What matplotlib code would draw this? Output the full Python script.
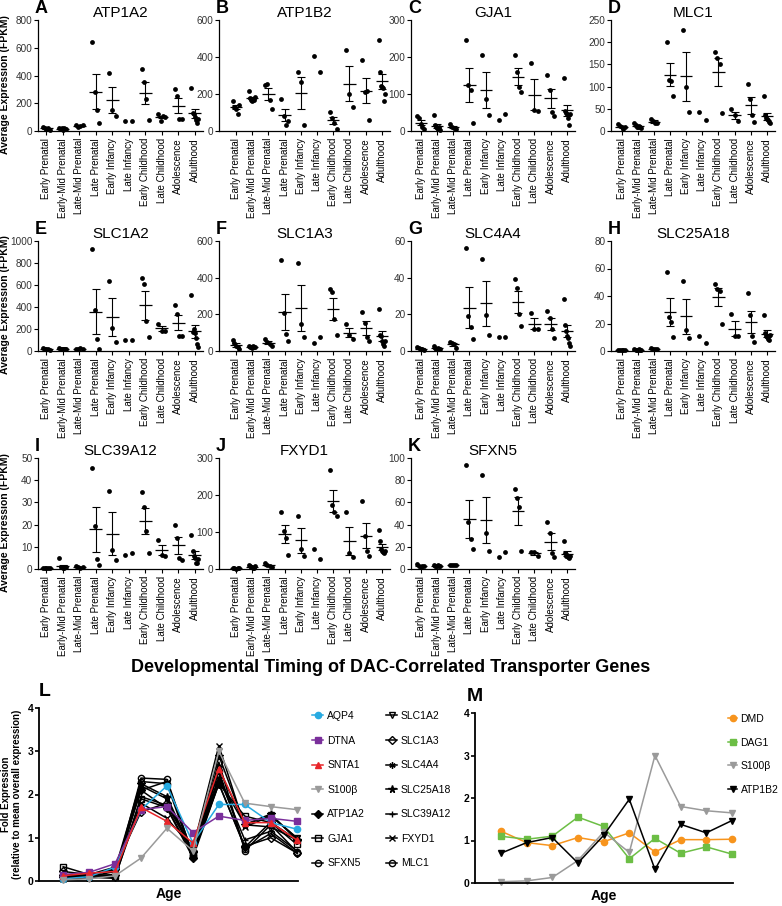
import numpy as np
import matplotlib
matplotlib.use("Agg")
import matplotlib.pyplot as plt

plt.rcParams['font.family'] = ['Liberation Sans', 'DejaVu Sans']

W, H = 782, 906

categories = ["Early Prenatal", "Early-Mid Prenatal", "Late-Mid Prenatal", "Late Prenatal",
              "Early Infancy", "Late Infancy", "Early Childhood", "Late Childhood",
              "Adolescence", "Adulthood"]

# individual samples (FPKM) per age group
atp1a2 = [[30, 20, 15, 25, 10], [20, 15, 25, 10, 20, 15, 18], [40, 30, 35, 45],
          [645, 280, 150, 60], [415, 150, 105], [70, 75], [445, 350, 230, 80],
          [120, 75, 110, 100], [300, 255, 90, 85], [310, 130, 120, 100, 80, 60, 90]]
atp1b2 = [[160, 130, 120, 90, 140], [215, 180, 170, 160, 175, 165, 185], [250, 255, 170, 120],
          [175, 80, 30, 55], [320, 265, 35], [405, 320], [105, 70, 45, 10],
          [440, 200, 130], [385, 210, 215, 60], [490, 320, 245, 240, 230, 160, 200]]
gja1 = [[40, 35, 20, 10, 5], [42, 15, 10, 8, 5, 12, 3], [20, 12, 8, 5],
        [245, 125, 110, 22], [205, 87, 42], [30, 45], [205, 160, 118, 105],
        [183, 57, 55], [152, 110, 52, 40], [143, 55, 50, 45, 35, 15, 45]]
mlc1 = [[15, 12, 8, 5, 10], [17, 13, 10, 8, 12, 9, 7], [28, 22, 18, 17],
        [200, 115, 113, 78], [228, 98, 43], [42, 25], [178, 165, 150, 40],
        [49, 35, 22], [106, 72, 35, 20], [78, 35, 30, 28, 25, 20, 18]]
slc1a2 = [[25, 20, 15, 20, 10], [25, 20, 15, 20, 18, 22, 15], [20, 15, 25, 18],
          [925, 370, 110, 20], [640, 205, 80], [100, 100], [660, 610, 270, 125],
          [250, 180, 185], [420, 340, 140, 135], [505, 175, 200, 160, 120, 65, 40]]
slc1a3 = [[60, 45, 30, 20, 10], [25, 20, 22, 18, 25, 20, 23], [65, 50, 40, 25],
          [495, 210, 95, 55], [480, 145, 75], [45, 75], [340, 320, 175, 90],
          [145, 90, 65], [215, 155, 75, 55], [228, 90, 80, 55, 40, 25, 55]]
slc4a4 = [[2, 1.5, 1, 1, 0.8], [2.5, 1.5, 1, 1.2, 1.8, 1, 1.3], [5, 4.5, 4, 1.5],
          [56, 19, 13, 6.5], [50, 19.5, 8.5], [7.5, 7.8], [39.5, 34.5, 20, 13.5],
          [21, 12, 12], [22, 18, 12, 7], [28.5, 14, 11, 8, 7, 4.5, 2.5]]
slc25a18 = [[1, 0.8, 0.5, 0.7, 0.6], [1.2, 1, 0.8, 0.9, 1.1, 0.7, 0.6], [2, 1.5, 1.8, 1.2],
            [57.5, 25, 21, 10], [51, 15, 9.5], [11, 6], [49, 45, 44, 20],
            [27, 11, 11], [42, 26, 11, 6.5], [26, 13, 11, 10, 9, 8, 12]]
slc39a12 = [[0.5, 0.4, 0.3, 0.4, 0.5], [5, 1, 0.8, 0.6, 0.5, 0.7, 0.9], [1.2, 0.8, 0.6, 1.0],
            [45.5, 19.5, 4.5, 1.8], [35, 8.5, 4], [6.5, 7.2], [34.5, 28, 17, 7],
            [13, 6.5, 6], [19.7, 14, 5, 4], [15.3, 8, 6, 5, 2.5, 2.5, 4.5]]
fxyd1 = [[3, 2, 1, 2, 1.5], [12, 8, 6, 5, 4, 3, 7], [15, 10, 8, 6],
         [153, 103, 85, 39], [143, 55, 35], [55, 28], [268, 172, 153, 143],
         [153, 43, 32], [185, 88, 48, 36], [106, 75, 55, 50, 45, 42, 48]]
sfxn5 = [[4.5, 3, 2, 2.5, 3], [3.5, 3, 2.5, 2.8, 3.2, 2.7, 3], [4, 3.8, 3.5, 4],
         [94, 42, 27, 18], [85, 32, 16], [11, 15], [72, 64, 56, 16],
         [15, 15, 12], [42.5, 32, 14, 10.5], [25.5, 14, 12, 13, 11, 10, 12]]

panel_letters = ["A", "B", "C", "D", "E", "F", "G", "H", "I", "J", "K"]
panel_genes = ["ATP1A2", "ATP1B2", "GJA1", "MLC1", "SLC1A2", "SLC1A3", "SLC4A4",
               "SLC25A18", "SLC39A12", "FXYD1", "SFXN5"]
panel_data = [atp1a2, atp1b2, gja1, mlc1, slc1a2, slc1a3, slc4a4, slc25a18,
              slc39a12, fxyd1, sfxn5]
panel_ymax = [800, 600, 300, 250, 1000, 600, 60, 80, 50, 300, 100]
panel_ystep = [200, 200, 100, 50, 200, 200, 20, 20, 10, 100, 20]

# fold expression (relative to mean overall expression), 10 ages
fold_genes = ["AQP4", "DTNA", "SNTA1", "S100\u03b2", "ATP1A2", "GJA1", "SFXN5",
              "SLC1A2", "SLC1A3", "SLC4A4", "SLC25A18", "SLC39A12", "FXYD1", "MLC1"]
fold_values = [
    [0.05, 0.10, 0.32, 1.65, 2.20, 0.88, 1.77, 1.77, 1.35, 1.20],
    [0.15, 0.20, 0.40, 1.65, 1.72, 1.12, 1.50, 1.40, 1.45, 1.38],
    [0.12, 0.18, 0.22, 1.70, 1.38, 0.88, 2.60, 1.35, 1.35, 0.95],
    [0.03, 0.05, 0.12, 0.53, 1.22, 0.70, 3.00, 1.80, 1.72, 1.65],
    [0.15, 0.13, 0.28, 2.10, 1.68, 0.54, 2.25, 0.78, 1.36, 0.95],
    [0.33, 0.15, 0.12, 1.90, 1.70, 0.60, 2.25, 1.50, 1.35, 0.85],
    [0.12, 0.12, 0.15, 2.38, 2.35, 0.60, 2.75, 0.70, 1.30, 0.68],
    [0.08, 0.08, 0.08, 2.20, 1.90, 0.62, 2.60, 1.30, 1.52, 1.00],
    [0.22, 0.15, 0.32, 1.60, 1.80, 0.70, 2.25, 0.80, 1.00, 0.65],
    [0.10, 0.10, 0.22, 2.10, 2.30, 0.62, 2.35, 1.30, 1.25, 0.95],
    [0.06, 0.07, 0.12, 2.25, 1.95, 0.65, 2.90, 1.30, 1.55, 0.95],
    [0.05, 0.10, 0.06, 1.95, 1.75, 0.70, 2.40, 0.95, 1.15, 0.70],
    [0.05, 0.08, 0.10, 1.80, 1.45, 0.75, 3.13, 1.25, 1.50, 1.00],
    [0.12, 0.13, 0.27, 2.30, 2.25, 0.55, 2.55, 0.75, 1.10, 0.65],
]
fold_colors = ["#27AAE1", "#7A2F9B", "#E8262A", "#9A9A9A"] + ["black"] * 10
fold_markers = ["o", "s", "^", "v", "D", "s", "o", "v", "D", (6, 2, 0), "*", "+", "x", "o"]
fold_open = [False] * 5 + [True, True, True, True] + [False] * 4 + [True]

m_genes = ["DMD", "DAG1", "S100\u03b2", "ATP1B2"]
m_values = [
    [1.22, 0.95, 0.88, 1.07, 0.97, 1.18, 0.73, 1.02, 1.02, 1.03],
    [1.10, 1.03, 1.10, 1.55, 1.33, 0.57, 1.05, 0.70, 0.85, 0.68],
    [0.03, 0.05, 0.13, 0.53, 1.20, 0.72, 3.00, 1.80, 1.70, 1.65],
    [0.70, 0.95, 1.07, 0.47, 1.12, 1.97, 0.32, 1.38, 1.18, 1.47],
]
m_colors = ["#F7941D", "#6CBE45", "#9A9A9A", "black"]
m_markers = ["o", "s", "v", "v"]


def px_axes(fig, left, top, right, bottom):
    return fig.add_axes([left / W, 1 - bottom / H, (right - left) / W, (bottom - top) / H])


fig = plt.figure(figsize=(W / 100, H / 100), dpi=100)

col_left = [38, 219, 411, 611]
col_right = [203, 390, 575, 775]
col_xmin = [-0.5, -1.05, -0.6, -0.65]
row_top = [20, 241, 458]
row_bottom = [131, 351, 569]

for i, (letter, gene, data) in enumerate(zip(panel_letters, panel_genes, panel_data)):
    r, c = divmod(i, 4)
    ax = px_axes(fig, col_left[c], row_top[r], col_right[c], row_bottom[r])
    x = np.arange(len(categories))
    for k, pts in enumerate(data):
        pts = np.array(pts, dtype=float)
        n = len(pts)
        offs = np.linspace(-0.2, 0.2, n) if n > 1 else np.zeros(1)
        ax.scatter(k + offs, pts, s=12, color="black", zorder=3, clip_on=False, linewidths=0)
        if n >= 3:
            m = pts.mean()
            sem = pts.std(ddof=1) / np.sqrt(n)
            ax.hlines(m, k - 0.38, k + 0.38, color="black", lw=0.9, zorder=4)
            ax.errorbar(k, m, yerr=sem, fmt="none", ecolor="black", elinewidth=0.8,
                        capsize=3, capthick=0.8, zorder=4)
    ax.set_xlim(col_xmin[c], 9.5)
    ax.set_ylim(0, panel_ymax[i])
    ax.set_yticks(np.arange(0, panel_ymax[i] + 1, panel_ystep[i]))
    ax.set_xticks(x)
    ax.set_xticklabels(categories, rotation=90, fontsize=7)
    ax.tick_params(axis="y", labelsize=7.2, labelcolor="#333333", length=3, width=0.8, pad=1)
    ax.tick_params(axis="x", length=3, width=0.8, pad=2)
    for s in ["top", "right"]:
        ax.spines[s].set_visible(False)
    ax.spines["left"].set_linewidth(0.9)
    ax.spines["bottom"].set_linewidth(0.9)
    ax.set_title(gene, fontsize=11, pad=2)
    ax.text(-3 / 165, 1 + 7 / 111, letter, transform=ax.transAxes, fontsize=13,
            fontweight="bold", ha="left", va="baseline")
    if c == 0:
        ax.set_ylabel("Average Expression (FPKM)", fontsize=7.5, fontweight="bold")
        ax.yaxis.set_label_coords(-0.17, 0.42)

fig.text(391 / W, 1 - 668 / H, "Developmental Timing of DAC-Correlated Transporter Genes",
         ha="center", va="center", fontsize=13, fontweight="bold")

# panel L
axL = px_axes(fig, 39, 708, 298, 881)
ages = np.arange(10)
handles = []
for gene, vals, col, mk, op in zip(fold_genes, fold_values, fold_colors, fold_markers, fold_open):
    ln, = axL.plot(ages, vals, color=col, marker=mk, markersize=4.5 if mk != "*" else 5.5,
                   mfc="none" if op else col, mec=col, mew=1.0, lw=1.1, label=gene,
                   clip_on=False)
    handles.append(ln)
# draw the coloured lines on top
for ln in handles[:4]:
    ln.set_zorder(5)
axL.set_xlim(-0.93, 9.05)
axL.set_ylim(0, 4)
axL.set_xticks([])
axL.set_yticks([0, 1, 2, 3, 4])
axL.set_yticklabels(["0", "1", "2", "3", "4"], fontweight="bold")
axL.tick_params(axis="y", labelsize=7.5, length=3, width=1.2, pad=1)
for s in ["top", "right"]:
    axL.spines[s].set_visible(False)
axL.spines["left"].set_linewidth(1.3)
axL.spines["bottom"].set_linewidth(1.3)
axL.set_xlabel("Age", fontsize=10, fontweight="bold", labelpad=4)
axL.set_ylabel("Fold Expression\n(relative to mean overall expression)", fontsize=7,
               fontweight="bold", linespacing=1.15)
axL.yaxis.set_label_coords(-0.065, 0.5)
axL.text(0, 1 + 8 / 173, "L", transform=axL.transAxes, fontsize=14, fontweight="bold",
         ha="left", va="bottom")
fig.legend(handles=handles, ncol=2, loc="upper left", bbox_to_anchor=(312 / W, 1 - 711 / H),
           frameon=False, fontsize=7.5, handlelength=1.1, handletextpad=0.35,
           columnspacing=2.0, labelspacing=1.4, borderpad=0, borderaxespad=0)

# panel M
axM = px_axes(fig, 475, 713, 733, 883)
mh = []
for gene, vals, col, mk in zip(m_genes, m_values, m_colors, m_markers):
    ln, = axM.plot(ages, vals, color=col, marker=mk, markersize=4.5, mec=col, lw=1.1,
                   label=gene, clip_on=False)
    mh.append(ln)
axM.set_xlim(-1.01, 9.04)
axM.set_ylim(0, 4)
axM.set_xticks([])
axM.set_yticks([0, 1, 2, 3, 4])
axM.set_yticklabels(["0", "1", "2", "3", "4"], fontweight="bold")
axM.tick_params(axis="y", labelsize=7.5, length=3, width=1.2, pad=1)
for s in ["top", "right"]:
    axM.spines[s].set_visible(False)
axM.spines["left"].set_linewidth(1.3)
axM.spines["bottom"].set_linewidth(1.3)
axM.set_xlabel("Age", fontsize=10, fontweight="bold", labelpad=4)
axM.text(-8 / 258, 1 + 8 / 170, "M", transform=axM.transAxes, fontsize=14, fontweight="bold",
         ha="left", va="bottom")
fig.legend(handles=mh, loc="upper left", bbox_to_anchor=(728 / W, 1 - 714 / H),
           frameon=False, fontsize=7.5, handlelength=0.9, handletextpad=0.3,
           labelspacing=1.3, borderpad=0, borderaxespad=0)

fig.savefig("out.png", dpi=100)
